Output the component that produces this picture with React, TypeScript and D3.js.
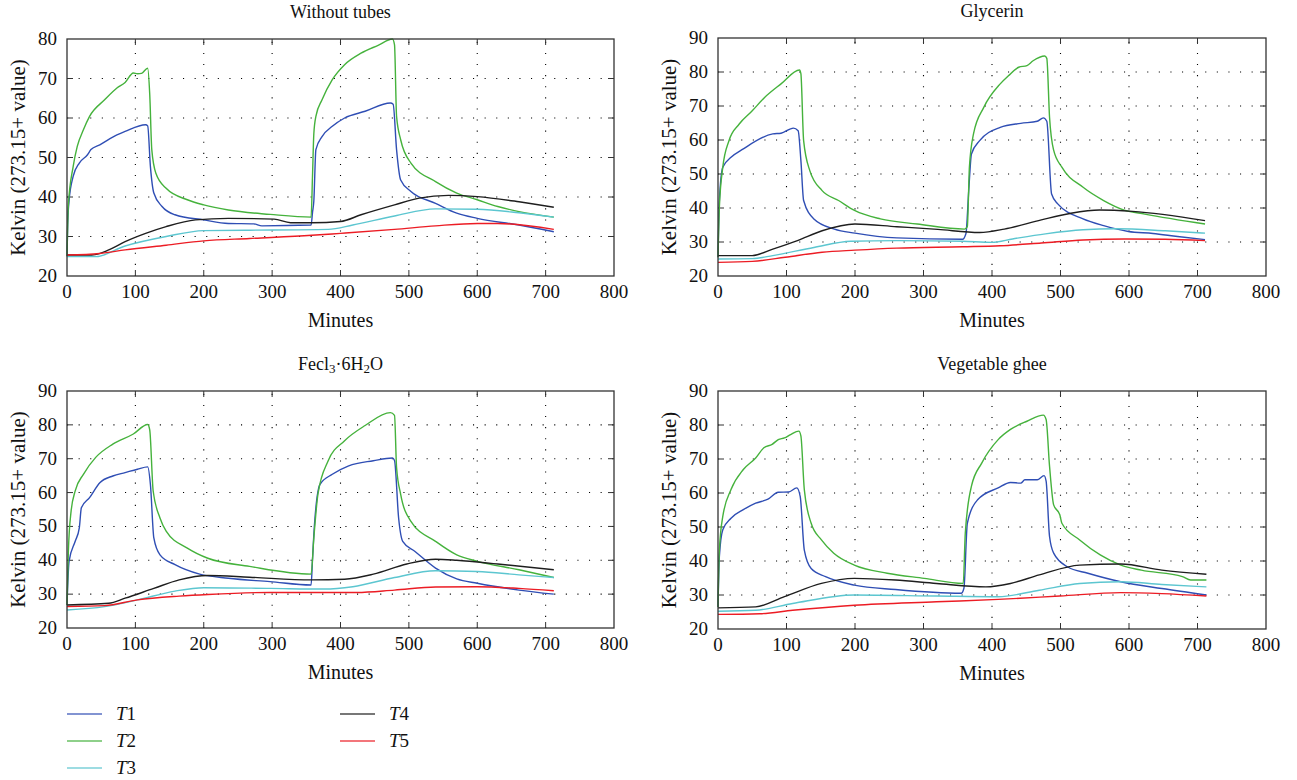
import React from "react";
import * as d3 from "d3";

type P = [number, number][];

const seriesNames = ["T1", "T2", "T3", "T4", "T5"];
const seriesColors = ["#2f4eb4", "#45b23c", "#5cc6d0", "#1e1e1e", "#ec1c24"];
const xTicks = [0, 100, 200, 300, 400, 500, 600, 700, 800];
const yTicksA = [20, 30, 40, 50, 60, 70, 80];
const yTicksB = [20, 30, 40, 50, 60, 70, 80, 90];

// Without tubes
const wtT1: P = [[0,25],[1,33],[3,39],[9,45.2],[18,48.6],[30,50.7],[35,52],[48,53.2],[73,55.7],[85,56.6],[115,58.3],[118,58],[122,47.7],[127,41],[139,37.6],[158,35.5],[200,34.2],[236,33.3],[273,33.2],[285,32.7],[357,32.9],[359,36],[361,39],[364,52],[373,55.3],[388,57.9],[406,60],[436,61.7],[473,63.8],[477,63.5],[482,52],[488,44.3],[503,41.4],[539,38.4],[570,35.9],[600,34.6],[661,32.9],[712,31.2]];
const wtT2: P = [[0,25],[2,38],[9,47.7],[15,52.8],[24,57],[33,60.4],[55,64.6],[73,67.6],[85,69],[97,71.4],[103,71.2],[109,71.3],[118,72.6],[121,66],[124,52],[130,46],[145,42.2],[176,39.3],[200,38],[236,36.7],[297,35.6],[357,34.9],[359,45],[361,56],[364,60.4],[373,64.6],[388,69.7],[406,73.5],[430,76.4],[455,78.4],[476,80],[479,78.5],[482,60.4],[488,54.5],[503,48.6],[539,43.9],[570,41],[600,39.3],[630,37.6],[661,36.3],[712,34.9]];
const wtT3: P = [[0,24.9],[42,24.9],[85,27.6],[145,30],[200,31.5],[267,31.6],[382,31.8],[418,32.9],[479,35.2],[539,37],[600,36.9],[661,36],[712,34.9]];
const wtT4: P = [[0,25.3],[36,25.3],[61,26.6],[85,28.7],[115,30.8],[145,32.5],[188,34.2],[236,34.6],[303,34.4],[327,33.5],[358,33.5],[400,33.8],[430,35.5],[479,38],[515,39.7],[558,40.4],[600,40.1],[661,38.8],[712,37.4]];
const wtT5: P = [[0,25.3],[48,25.7],[85,26.6],[145,27.8],[200,28.9],[267,29.5],[358,30.3],[400,30.8],[479,31.8],[539,32.7],[600,33.3],[630,33.3],[712,31.8]];

// Glycerin
const glT1: P = [[0,25.5],[2,42.2],[7,52],[19,54.9],[37,57.4],[80,61.8],[92,62],[110,63.5],[117,62.7],[121,54],[125,42.2],[140,36.8],[170,33.8],[200,32.6],[261,31.2],[357,30.8],[362,32.5],[366,45],[370,55.9],[382,59.8],[412,63.7],[442,64.9],[466,65.5],[475,66.5],[480,65.5],[487,44.1],[496,41.2],[533,36.8],[563,34.8],[599,33.1],[635,32.5],[671,31.6],[711,30.7]];
const glT2: P = [[0,25.5],[2,40.2],[7,52],[16,59.8],[31,64.7],[50,68.6],[68,72.5],[92,76.5],[119,80.6],[121,79.5],[125,59.8],[134,51],[152,45.1],[176,42.2],[200,39.2],[237,36.8],[291,35.3],[360,33.8],[364,34.5],[367,52],[373,61.8],[388,69.6],[412,76.5],[424,78.9],[439,81.4],[451,81.9],[460,83.3],[477,84.7],[480,84],[484,66.7],[490,57],[502,52],[533,46.1],[563,42.2],[593,39.4],[623,38.2],[711,35.3]];
const glT3: P = [[0,25],[50,25.1],[80,26],[140,28.4],[194,30.2],[261,30.4],[357,30.2],[400,29.9],[430,30.9],[478,32.4],[533,33.6],[581,33.9],[653,33.3],[711,32.6]];
const glT4: P = [[0,26],[50,26],[80,27.9],[116,30.4],[152,33.3],[200,35.3],[261,34.5],[321,33.7],[382,32.8],[418,33.8],[472,36.5],[514,38.4],[557,39.4],[605,39],[711,36.3]];
const glT5: P = [[0,24],[50,24.3],[98,25.5],[152,27],[200,27.6],[261,28.2],[357,28.6],[412,28.9],[472,29.7],[533,30.6],[593,30.9],[653,30.8],[711,30.4]];

// FeCl3·6H2O
const feT1: P = [[0,26.8],[3,39.7],[12,45.6],[18,49.6],[21,55.5],[33,58.5],[48,62.9],[67,64.9],[85,65.9],[103,66.9],[118,67.6],[122,62.4],[127,46.6],[136,41.6],[158,38.7],[194,35.9],[236,34.7],[297,33.7],[357,32.7],[359,40],[361,47.6],[370,62.4],[388,65.4],[412,67.9],[448,69.4],[476,70.2],[479,69.5],[485,52.5],[491,45.6],[509,42.6],[539,37.7],[570,34.5],[600,33.2],[661,31.2],[712,30]];
const feT2: P = [[0,26.8],[2,42.6],[6,54.5],[12,60.5],[24,65.4],[42,70.4],[67,74.3],[97,77.3],[118,80.1],[121,78.5],[126,60.5],[136,52.5],[145,48.6],[176,43.6],[206,40.6],[267,38.2],[357,35.9],[361,46.6],[367,59.5],[382,69.4],[406,75.3],[436,79.8],[473,83.6],[479,82.8],[482,67.4],[488,59.5],[503,51.5],[539,45.6],[570,41.6],[600,39.7],[661,37.2],[712,34.9]];
const feT3: P = [[0,25.3],[55,26.3],[103,28.3],[158,30.9],[200,31.9],[297,31.7],[376,31.5],[418,32.2],[479,34.9],[539,36.9],[600,36.7],[661,35.7],[712,34.9]];
const feT4: P = [[0,26.8],[61,27.3],[85,28.8],[127,31.7],[164,34.2],[206,35.5],[267,35],[358,34.2],[406,34.4],[448,35.9],[497,38.9],[539,40.3],[570,40],[630,38.9],[712,37.2]];
const feT5: P = [[0,26.3],[55,26.6],[103,28.3],[164,29.4],[206,29.9],[297,30.5],[424,30.5],[479,31.2],[539,32.1],[600,32.2],[661,31.7],[712,31]];

// Vegetable ghee
const vgT1: P = [[0,26.5],[2,41.3],[7,49.2],[19,52.6],[37,55.1],[55,57],[73,58.2],[88,60.2],[103,60.3],[115,61.5],[120,59],[126,43.2],[136,37.8],[157,35.4],[199,32.9],[259,31.6],[355,30.5],[359,32],[364,51.1],[379,58],[409,61.5],[427,63.1],[442,62.9],[448,63.9],[466,63.9],[476,65.1],[479,63.5],[484,47.2],[490,42.3],[510,38.3],[540,36.4],[588,33.9],[648,31.9],[713,30]];
const vgT2: P = [[0,26.5],[2,43.2],[7,53.1],[19,61],[37,66.9],[55,70.3],[67,73.3],[79,74.3],[88,75.7],[97,76.2],[106,77.2],[118,78.2],[121,76.8],[126,61],[136,51.1],[151,46.2],[169,42.3],[199,38.8],[247,36.4],[301,34.9],[358,33.4],[361,48.2],[370,62],[385,68.8],[409,75.7],[427,78.7],[451,81.1],[475,82.9],[479,81.6],[484,67.9],[490,56.5],[499,53.6],[502,51.1],[528,46.2],[558,41.8],[588,38.8],[618,37.3],[678,35.4],[690,34.4],[713,34.4]];
const vgT3: P = [[0,25.2],[55,25.5],[109,27.5],[199,30],[319,29.7],[409,29.5],[469,31.4],[528,33.4],[588,33.9],[648,33.1],[713,32.4]];
const vgT4: P = [[0,26.2],[55,26.5],[97,29.5],[151,33.4],[199,34.9],[259,34.4],[319,33.4],[391,32.4],[427,33.4],[469,35.9],[528,38.8],[588,39.1],[648,37.3],[713,36.1]];
const vgT5: P = [[0,24.3],[61,24.5],[109,25.5],[199,27],[319,28],[409,28.7],[499,29.7],[588,30.7],[648,30.4],[713,29.7]];

const FONT = "Liberation Serif, serif";

type Panel = {
  key: string;
  title: React.ReactNode;
  x0: number; x1: number; y0: number; y1: number;
  yMax: number; yTicks: number[];
  series: P[];
};

const panels: Panel[] = [
  { key: "wt", title: "Without tubes", x0: 67, x1: 614, y0: 39, y1: 276, yMax: 80, yTicks: yTicksA, series: [wtT1, wtT2, wtT3, wtT4, wtT5] },
  { key: "gl", title: "Glycerin", x0: 718, x1: 1266, y0: 38, y1: 276, yMax: 90, yTicks: yTicksB, series: [glT1, glT2, glT3, glT4, glT5] },
  {
    key: "fe",
    title: (
      <>
        Fecl<tspan baselineShift="-25%" fontSize="13">3</tspan>·6H<tspan baselineShift="-25%" fontSize="13">2</tspan>O
      </>
    ),
    x0: 67, x1: 614, y0: 391, y1: 628, yMax: 90, yTicks: yTicksB, series: [feT1, feT2, feT3, feT4, feT5],
  },
  { key: "vg", title: "Vegetable ghee", x0: 718, x1: 1266, y0: 391, y1: 629, yMax: 90, yTicks: yTicksB, series: [vgT1, vgT2, vgT3, vgT4, vgT5] },
];

function ChartPanel({ p }: { p: Panel }) {
  const x = d3.scaleLinear().domain([0, 800]).range([p.x0, p.x1]);
  const y = d3.scaleLinear().domain([20, p.yMax]).range([p.y1, p.y0]);
  const line = d3
    .line<[number, number]>()
    .x((d) => x(d[0]))
    .y((d) => y(d[1]))
    .curve(d3.curveMonotoneX);
  const cx = (p.x0 + p.x1) / 2;
  const cy = (p.y0 + p.y1) / 2;
  const tk = 6;
  return (
    <g>
      {xTicks.slice(1, -1).map((t) => (
        <line key={"gx" + t} x1={x(t)} x2={x(t)} y1={p.y1} y2={p.y0} stroke="#000" strokeWidth={1.1} strokeDasharray="1.1,10" />
      ))}
      {p.yTicks.slice(1, -1).map((t) => (
        <line key={"gy" + t} x1={p.x0} x2={p.x1} y1={y(t)} y2={y(t)} stroke="#000" strokeWidth={1.1} strokeDasharray="1.1,10.5" />
      ))}
      {xTicks.slice(1, -1).map((t) => (
        <g key={"tx" + t}>
          <line x1={x(t)} x2={x(t)} y1={p.y1} y2={p.y1 - tk} stroke="#333" strokeWidth={1} />
          <line x1={x(t)} x2={x(t)} y1={p.y0} y2={p.y0 + tk} stroke="#333" strokeWidth={1} />
        </g>
      ))}
      {p.yTicks.slice(1, -1).map((t) => (
        <g key={"ty" + t}>
          <line x1={p.x0} x2={p.x0 + tk} y1={y(t)} y2={y(t)} stroke="#333" strokeWidth={1} />
          <line x1={p.x1} x2={p.x1 - tk} y1={y(t)} y2={y(t)} stroke="#333" strokeWidth={1} />
        </g>
      ))}
      {p.series.map((s, i) => (
        <path key={i} d={line(s) || ""} fill="none" stroke={seriesColors[i]} strokeWidth={1.4} strokeLinejoin="round" />
      ))}
      <rect x={p.x0} y={p.y0} width={p.x1 - p.x0} height={p.y1 - p.y0} fill="none" stroke="#333" strokeWidth={1.3} />
      {xTicks.map((t) => (
        <text key={"lx" + t} x={x(t)} y={p.y1 + 22} textAnchor="middle" fontSize={19} fontFamily={FONT} fill="#111">
          {t}
        </text>
      ))}
      {p.yTicks.map((t) => (
        <text key={"ly" + t} x={p.x0 - 10} y={y(t) + 6} textAnchor="end" fontSize={19} fontFamily={FONT} fill="#111">
          {t}
        </text>
      ))}
      <text x={cx} y={p.y0 - 21} textAnchor="middle" fontSize={18} fontFamily={FONT} fill="#111">
        {p.title}
      </text>
      <text x={cx} y={p.y1 + 51} textAnchor="middle" fontSize={20} fontFamily={FONT} fill="#111">
        Minutes
      </text>
      <text
        transform={`translate(${p.x0 - 42},${cy}) rotate(-90)`}
        textAnchor="middle"
        fontSize={21}
        fontFamily={FONT}
        fill="#111"
      >
        Kelvin (273.15+ value)
      </text>
    </g>
  );
}

const legendPos = [
  [67, 714], [67, 741], [67, 768], [340, 714], [340, 741],
];

export default function App() {
  return (
    <div style={{ position: "absolute", left: 0, top: 0 }}>
      <svg width={1297} height={780} style={{ display: "block", background: "#fff" }}>
        {panels.map((p) => (
          <ChartPanel key={p.key} p={p} />
        ))}
        {seriesNames.map((n, i) => {
          const [lx, ly] = legendPos[i];
          return (
            <g key={n}>
              <line x1={lx} x2={lx + 35} y1={ly} y2={ly} stroke={seriesColors[i]} strokeWidth={1.4} opacity={0.8} />
              <text x={lx + 49} y={ly + 6} fontSize={19} fontFamily={FONT} fill="#111">
                <tspan fontStyle="italic">T</tspan>
                {n.slice(1)}
              </text>
            </g>
          );
        })}
      </svg>
    </div>
  );
}
